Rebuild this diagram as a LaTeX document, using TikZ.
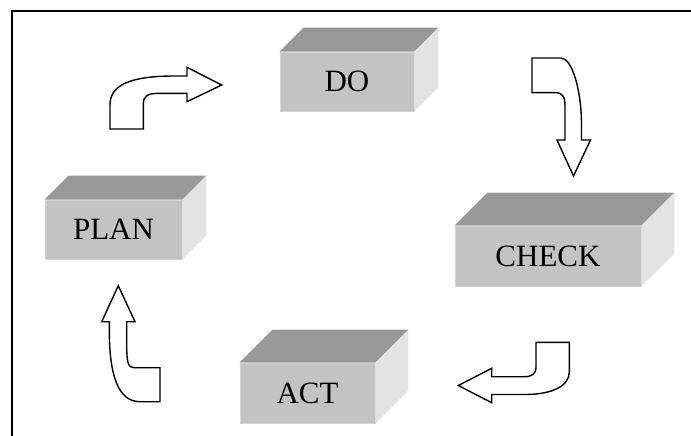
\documentclass[tikz,border=0pt]{standalone}
\usepackage{fontspec}
\setmainfont{Liberation Serif}
\usetikzlibrary{calc}
\definecolor{frontgray}{RGB}{195,195,195}
\definecolor{edgegray}{RGB}{212,212,212}
\definecolor{topgray}{RGB}{152,152,152}
\definecolor{sidegray}{RGB}{227,227,227}
\tikzset{
  frontface/.style={rectangle, fill=frontgray, draw=edgegray, line width=0.8pt, inner sep=0pt,
    font=\fontsize{31}{37}\selectfont},
  topface/.style={fill=topgray},
  sideface/.style={fill=sidegray},
  blockarrow/.style={draw=black, fill=white, line width=1.4pt, line join=miter},
  frameline/.style={draw=black, line width=1.3pt}
}
\newcommand\pdcabox[7]{%
  \node[frontface, minimum width=#4pt, minimum height=#5pt] (#1) at (#2,#3) {#7};
  \fill[topface] (#1.north west) -- ++(#6,-#6) -- ([shift={(#6,-#6)}]#1.north east) -- (#1.north east) -- cycle;
  \fill[sideface] (#1.north east) -- ++(#6,-#6) -- ([shift={(#6,-#6)}]#1.south east) -- (#1.south east) -- cycle;
}
\begin{document}
\begin{tikzpicture}[x=1pt,y=-1pt]
\useasboundingbox (0,0) rectangle (691,436);
% frame
\draw[frameline] (12,436) -- (12,11) -- (691,11);
% boxes
\pdcabox{do}{347}{81.5}{134}{59}{24}{DO}
\pdcabox{plan}{113.5}{229.5}{137}{59}{24}{PLAN}
\pdcabox{check}{548}{256}{186}{60}{33}{CHECK}
\pdcabox{act}{307.5}{393}{135}{60}{33}{ACT}
% arrow PLAN -> DO
\draw[blockarrow] (110,129) -- (110,105) .. controls (110,85) and (130,76) .. (175,76)
  -- (187,76) -- (187,67.3) -- (221.7,85) -- (187,101.7) -- (187,93.4) -- (158,93.4)
  .. controls (148,93.4) and (143.3,96) .. (143.3,104) -- (143.3,129) -- cycle;
% arrow DO -> CHECK
\draw[blockarrow] (532,58) -- (561,58) .. controls (572,58) and (581.5,90) .. (581.5,125)
  -- (581.5,140) -- (590.5,140) -- (573.5,176) -- (557,140) -- (565,140) -- (565,106)
  .. controls (565,96) and (562,92.6) .. (555,92.6) -- (532,92.6) -- cycle;
% arrow CHECK -> ACT
\draw[blockarrow] (536,342.3) -- (569.3,342.3) -- (569.3,372)
  .. controls (569.3,386) and (552,394.5) .. (525,394.5) -- (491.7,394.5) -- (491.7,402.7)
  -- (458.3,385.5) -- (491.7,368.3) -- (491.7,376.7) -- (524,376.7)
  .. controls (532,376.7) and (536,374) .. (536,367) -- cycle;
% arrow ACT -> PLAN
\draw[blockarrow] (118.3,285.7) -- (135,321.7) -- (126.7,321.7) -- (126.7,345)
  .. controls (126.7,362) and (128,367.7) .. (134,367.7) -- (160,367.7) -- (160,401.7)
  -- (140,401.7) .. controls (118,401.7) and (109.3,375) .. (109.3,330) -- (109.3,321.7)
  -- (101.7,321.7) -- cycle;
\end{tikzpicture}
\end{document}
